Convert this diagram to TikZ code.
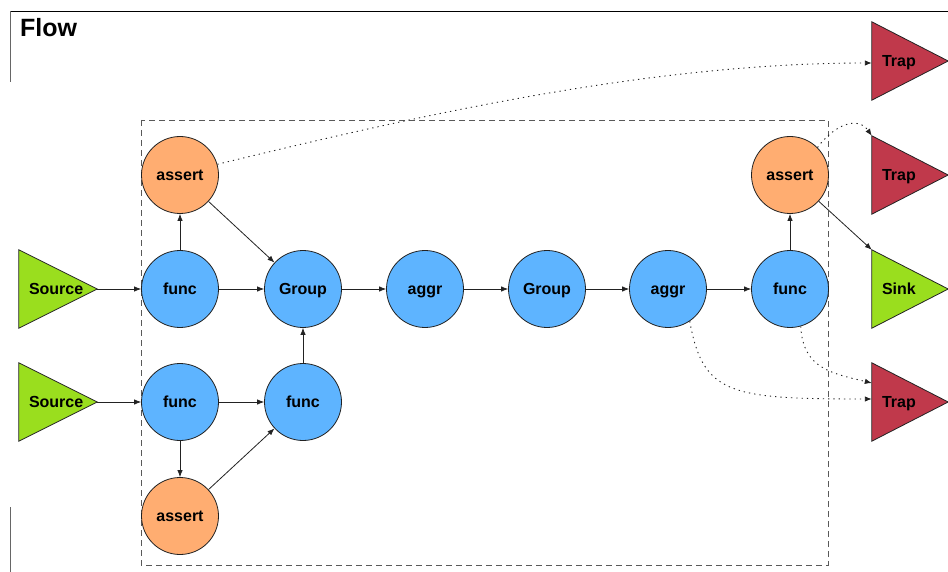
\documentclass[tikz,border=0pt]{standalone}
\usepackage{fontspec}
\setmainfont{Liberation Sans}
\usetikzlibrary{arrows.meta,backgrounds}
\definecolor{cblue}{HTML}{5EB4FF}
\definecolor{corange}{HTML}{FFAD71}
\definecolor{cgreen}{HTML}{9ADE1E}
\definecolor{cred}{HTML}{C0394B}
\definecolor{cline}{HTML}{222222}
\begin{document}
\begin{tikzpicture}[x=1pt,y=-1pt,
  circ/.style={circle, draw=cline, line width=0.8pt, minimum size=77pt, inner sep=0pt, text height=14pt, text depth=2.5pt, font=\fontsize{16}{18}\selectfont\bfseries},
  fn/.style={circ, fill=cblue},
  as/.style={circ, fill=corange},
  tri/.style={rectangle, minimum height=78pt, inner xsep=10pt, inner ysep=0pt, text width=56pt, align=left, text height=13.5pt, text depth=2pt, font=\fontsize{16}{18}\selectfont\bfseries},
  srctri/.style={tri, text width=58pt},
  conn/.style={draw=cline, line width=0.8pt, -{Latex[length=7pt,width=5.5pt]}},
  dotconn/.style={draw=cline, line width=0.9pt, dash pattern=on 1.3pt off 4pt, -{Latex[length=7pt,width=5.5pt]}},
  tribox/.style={draw=cline, line width=0.8pt},
  grp/.style={draw=black!65, line width=0.8pt, dash pattern=on 6pt off 4pt}
]
\useasboundingbox (0,0) rectangle (948,572);

% frame
\draw[black, line width=0.8pt] (10,11) -- (948,11);
\draw[black!60, line width=0.8pt] (10,11) -- (10,82);
\draw[black!60, line width=0.8pt] (10,507) -- (10,572);
\node[anchor=base west, inner sep=0pt, font=\fontsize{25}{29}\selectfont\bfseries] (title) at (20,37) {Flow};

% triangles (text nodes)
\node[srctri] (src1) at (58,289) {Source};
\node[srctri] (src2) at (58,402) {Source};
\node[tri] (trap1) at (910,61) {Trap};
\node[tri] (trap2) at (910,175) {Trap};
\node[tri] (sink) at (910,289) {Sink};
\node[tri] (trapb) at (910,402) {Trap};

% circles
\node[as] (a1) at (180,175) {assert};
\node[fn] (f1) at (180,289) {func};
\node[fn] (g1) at (303,289) {Group};
\node[fn] (ag1) at (425,289) {aggr};
\node[fn] (g2) at (547,289) {Group};
\node[fn] (ag2) at (668,289) {aggr};
\node[fn] (f4) at (790,289) {func};
\node[as] (a2) at (790,175) {assert};
\node[fn] (f2) at (180,402) {func};
\node[fn] (f3) at (303,402) {func};
\node[as] (a3) at (180,516) {assert};

\begin{scope}[on background layer]
  \draw[grp] (141,120) rectangle (828,565);
  \foreach \n/\c in {src1/cgreen, src2/cgreen, sink/cgreen, trap1/cred, trap2/cred, trapb/cred}
    \draw[tribox, fill=\c] (\n.north west) -- (\n.east) -- (\n.south west) -- cycle;
\end{scope}

% connectors
\draw[conn] (src1.east) -- (f1);
\draw[conn] (src2.east) -- (f2);
\draw[conn] (f1) -- (a1);
\draw[conn] (f1) -- (g1);
\draw[conn] (a1) -- (g1);
\draw[conn] (g1) -- (ag1);
\draw[conn] (ag1) -- (g2);
\draw[conn] (g2) -- (ag2);
\draw[conn] (ag2) -- (f4);
\draw[conn] (f4) -- (a2);
\draw[conn] (a2) -- (sink.north west);
\draw[conn] (f2) -- (f3);
\draw[conn] (f2) -- (a3);
\draw[conn] (a3) -- (f3);
\draw[conn] (f3) -- (g1);

% dotted connectors
\draw[dotconn] (a1.16) .. controls (420,115) and (650,63) .. ([yshift=-2pt]trap1.west);
\draw[dotconn] (a2.45) .. controls (835,124) and (858,116) .. (trap2.north west);
\draw[dotconn] (ag2.-56) .. controls (703,395) and (730,399) .. ([yshift=3pt]trapb.west);
\draw[dotconn] (f4.-74) .. controls (803,368) and (830,373) .. ([yshift=19pt]trapb.west);
\end{tikzpicture}
\end{document}
